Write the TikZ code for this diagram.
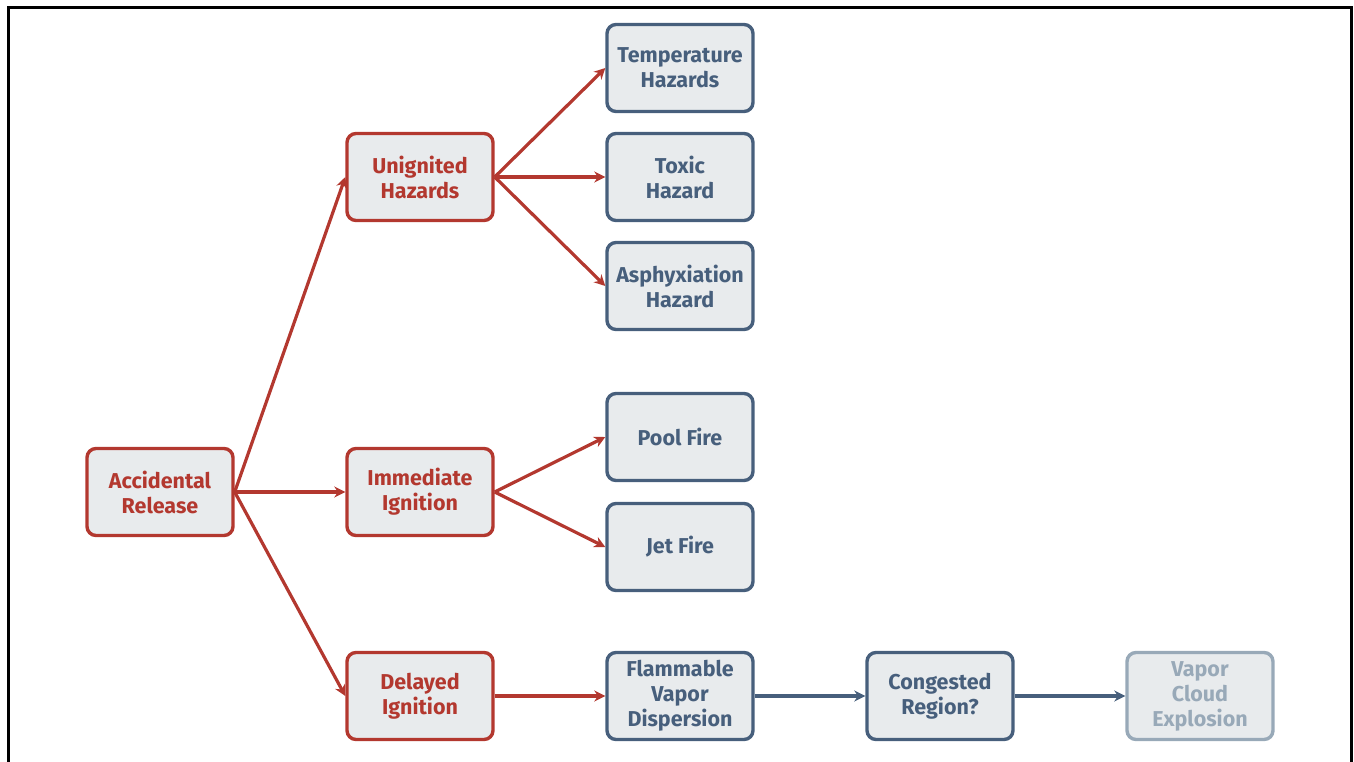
\documentclass[tikz,border=0pt]{standalone}
\usepackage{fontspec}
\setmainfont{Fira Sans}
\usetikzlibrary{arrows.meta}
\definecolor{redc}{HTML}{B3382F}
\definecolor{bluec}{HTML}{475F7C}
\definecolor{fadec}{HTML}{98A9B8}
\definecolor{boxfill}{HTML}{E8EBED}
\tikzset{
  box/.style={draw, line width=3.4pt, rounded corners=9pt, fill=boxfill,
    minimum width=146pt, minimum height=87pt, align=center,
    font=\fontsize{21.5}{25}\selectfont\bfseries, inner sep=2pt},
  redbox/.style={box, draw=redc, text=redc},
  bluebox/.style={box, draw=bluec, text=bluec},
  fadebox/.style={box, draw=fadec, text=fadec},
  redarrow/.style={draw=redc, line width=3.2pt, -{Stealth[length=11pt,width=11pt]}},
  bluearrow/.style={draw=bluec, line width=3.2pt, -{Stealth[length=11pt,width=11pt]}},
}
\begin{document}
\begin{tikzpicture}[x=1pt,y=-1pt]
\useasboundingbox (0,0) rectangle (1354,762);
\draw[line width=3pt] (8,770) -- (8,8) -- (1351,8) -- (1351,770);
\node[redbox] (acc) at (160,492) {Accidental\\Release};
\node[redbox] (unig) at (420,177) {Unignited\\Hazards};
\node[redbox] (imm) at (420,492) {Immediate\\Ignition};
\node[redbox] (del) at (420,696) {Delayed\\Ignition};
\node[bluebox] (temp) at (680,68) {Temperature\\Hazards};
\node[bluebox] (tox) at (680,177) {Toxic\\Hazard};
\node[bluebox] (asph) at (680,286) {Asphyxiation\\Hazard};
\node[bluebox] (pool) at (680,437) {Pool Fire};
\node[bluebox] (jet) at (680,547) {Jet Fire};
\node[bluebox] (flam) at (680,696) {Flammable\\Vapor\\Dispersion};
\node[bluebox] (cong) at (940,696) {Congested\\Region?};
\node[fadebox] (vce) at (1200,696) {Vapor\\Cloud\\Explosion};
\draw[redarrow] (acc.east) -- (unig.west);
\draw[redarrow] (acc.east) -- (imm.west);
\draw[redarrow] (acc.east) -- (del.west);
\draw[redarrow] (unig.east) -- (temp.west);
\draw[redarrow] (unig.east) -- (tox.west);
\draw[redarrow] (unig.east) -- (asph.west);
\draw[redarrow] (imm.east) -- (pool.west);
\draw[redarrow] (imm.east) -- (jet.west);
\draw[redarrow] (del.east) -- (flam.west);
\draw[bluearrow] (flam.east) -- (cong.west);
\draw[bluearrow] (cong.east) -- (vce.west);
\end{tikzpicture}
\end{document}
